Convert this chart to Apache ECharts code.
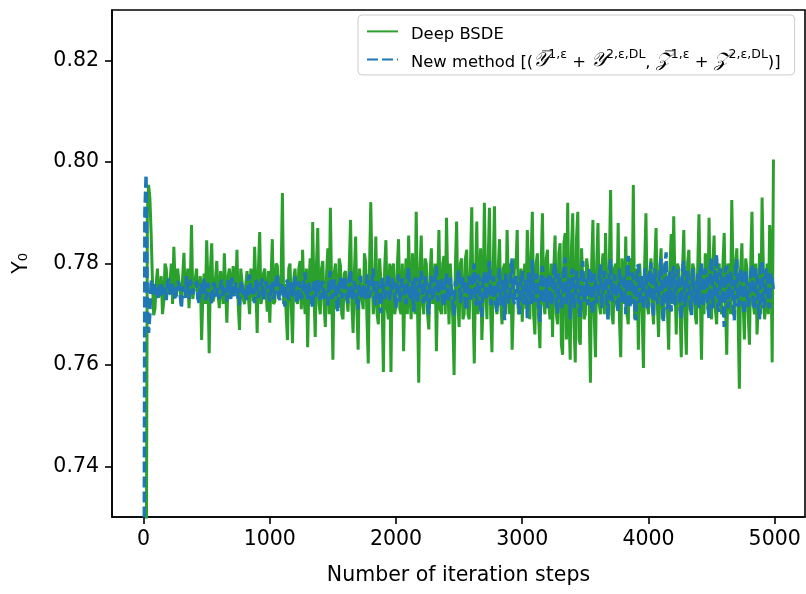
<!DOCTYPE html>
<html>
<head>
<meta charset="utf-8">
<script src="https://cdn.jsdelivr.net/npm/echarts@6/dist/echarts.min.js"></script>
<style>html,body{margin:0;padding:0;background:#fff}#c{width:806px;height:594px}</style>
</head>
<body>
<div id="c"></div>
<script>
// Logged every 10 iteration steps: "even" arrays hold steps 0,20,...,4980 and the final step 4990;
// "odd" arrays hold steps 10,30,...,4970.
const stepInterval = 20;
const oddOffset = 10;
const finalStep = 4990;

// Deep BSDE Y0 estimates
const deepBSDEEven = [
0.600,0.700,0.7955,0.7860,0.7698,0.7760,0.7735,0.7775,0.7725,0.7790,
0.7740,0.7800,0.7833,0.7735,0.7765,0.7730,0.7821,0.7745,0.7712,0.7876,
0.7750,0.7790,0.7738,0.7649,0.7780,0.7846,0.7623,0.7840,0.7735,0.7805,
0.7712,0.7760,0.7820,0.7683,0.7790,0.7730,0.7770,0.7827,0.7669,0.7765,
0.7720,0.7785,0.7700,0.7770,0.7833,0.7663,0.7862,0.7735,0.7790,0.7705,
0.7683,0.7848,0.7725,0.7795,0.7740,0.7939,0.7760,0.7649,0.7800,0.7643,
0.7790,0.7720,0.7805,0.7827,0.7700,0.7635,0.7810,0.7882,0.7655,0.7870,
0.7700,0.7805,0.7675,0.7830,0.7910,0.7610,0.7800,0.7720,0.7795,0.7690,
0.7785,0.7705,0.7886,0.7663,0.7853,0.7630,0.7790,0.7710,0.7800,0.7603,
0.7921,0.7700,0.7853,0.7680,0.7810,0.7586,0.7846,0.7690,0.7586,0.7800,
0.7720,0.7848,0.7700,0.7627,0.7810,0.7855,0.7690,0.7760,0.7902,0.7565,
0.7855,0.7700,0.7800,0.7670,0.7830,0.7720,0.7627,0.7866,0.7700,0.7815,
0.7890,0.7680,0.7800,0.7580,0.7883,0.7675,0.7810,0.7700,0.7827,0.7690,
0.7911,0.7603,0.7883,0.7700,0.7649,0.7920,0.7690,0.7910,0.7625,0.7913,
0.7700,0.7848,0.7680,0.7800,0.7866,0.7700,0.7630,0.7810,0.7866,0.7720,
0.7685,0.7800,0.7866,0.7690,0.7902,0.7660,0.7820,0.7633,0.7899,0.7700,
0.7827,0.7690,0.7655,0.7855,0.7680,0.7840,0.7620,0.7860,0.7920,0.7610,
0.7899,0.7605,0.7902,0.7640,0.7830,0.7700,0.7790,0.7565,0.7886,0.7615,
0.7880,0.7700,0.7820,0.7860,0.7690,0.7945,0.7680,0.7800,0.7880,0.7615,
0.7780,0.7853,0.7680,0.7800,0.7955,0.7700,0.7630,0.7800,0.7594,0.7899,
0.7700,0.7810,0.7680,0.7870,0.7655,0.7830,0.7700,0.7780,0.7630,0.7858,
0.7893,0.7660,0.7790,0.7615,0.7866,0.7620,0.7827,0.7700,0.7790,0.7680,
0.7897,0.7610,0.7700,0.7800,0.7890,0.7690,0.7855,0.7680,0.7800,0.7700,
0.7860,0.7620,0.7790,0.7925,0.7700,0.7830,0.7553,0.7840,0.7650,0.7790,
0.7640,0.7902,0.7700,0.7660,0.7820,0.7930,0.7690,0.7800,0.7876,0.7605,
0.8005
];
const deepBSDEOdd = [
0.620,0.7900,0.7930,0.7770,0.7710,0.7790,0.7740,0.7700,0.7800,0.7750,
0.7765,0.7720,0.7760,0.7790,0.7745,0.7775,0.7735,0.7790,0.7760,0.7730,
0.7770,0.7730,0.7775,0.7740,0.7720,0.7760,0.7790,0.7725,0.7770,0.7740,
0.7785,0.7720,0.7750,0.7775,0.7730,0.7795,0.7740,0.7720,0.7790,0.7730,
0.7760,0.7735,0.7790,0.7725,0.7750,0.7790,0.7720,0.7780,0.7745,0.7785,
0.7770,0.7720,0.7800,0.7730,0.7780,0.7720,0.7700,0.7790,0.7720,0.7770,
0.7740,0.7790,0.7710,0.7740,0.7790,0.7760,0.7720,0.7740,0.7800,0.7720,
0.7790,0.7720,0.7780,0.7700,0.7750,0.7780,0.7710,0.7810,0.7700,0.7780,
0.7730,0.7800,0.7720,0.7780,0.7710,0.7790,0.7730,0.7820,0.7690,0.7790,
0.7780,0.7730,0.7700,0.7810,0.7720,0.7790,0.7710,0.7800,0.7790,0.7700,
0.7790,0.7710,0.7800,0.7760,0.7700,0.7740,0.7820,0.7700,0.7720,0.7790,
0.7720,0.7810,0.7700,0.7780,0.7720,0.7800,0.7760,0.7710,0.7800,0.7700,
0.7760,0.7800,0.7690,0.7790,0.7720,0.7800,0.7690,0.7810,0.7700,0.7800,
0.7720,0.7780,0.7700,0.7830,0.7720,0.7760,0.7800,0.7700,0.7790,0.7720,
0.7790,0.7720,0.7790,0.7700,0.7760,0.7800,0.7720,0.7790,0.7700,0.7790,
0.7760,0.7710,0.7780,0.7810,0.7700,0.7800,0.7690,0.7800,0.7720,0.7810,
0.7720,0.7800,0.7790,0.7700,0.7820,0.7640,0.7840,0.7650,0.7700,0.7830,
0.7680,0.7850,0.7650,0.7830,0.7690,0.7810,0.7720,0.7800,0.7700,0.7800,
0.7720,0.7790,0.7700,0.7730,0.7800,0.7700,0.7790,0.7720,0.7690,0.7810,
0.7720,0.7700,0.7810,0.7720,0.7690,0.7790,0.7800,0.7700,0.7800,0.7720,
0.7780,0.7720,0.7800,0.7720,0.7790,0.7690,0.7800,0.7710,0.7790,0.7720,
0.7760,0.7800,0.7710,0.7790,0.7700,0.7800,0.7710,0.7800,0.7700,0.7790,
0.7750,0.7780,0.7820,0.7710,0.7720,0.7800,0.7710,0.7790,0.7720,0.7800,
0.7720,0.7800,0.7700,0.7780,0.7800,0.7700,0.7790,0.7720,0.7810,0.7700,
0.7800,0.7720,0.7800,0.7720,0.7700,0.7790,0.7720,0.7700,0.7830
];

// New method Y0 estimates
const newMethodEven = [
0.650,0.7975,0.7663,0.7768,0.7738,0.7755,0.7730,0.7762,0.7745,0.7728,
0.7770,0.7735,0.7752,0.7725,0.7760,0.7712,0.7748,0.7775,0.7730,0.7758,
0.7740,0.7765,0.7722,0.7755,0.7770,0.7735,0.7750,0.7720,0.7762,0.7745,
0.7730,0.7768,0.7742,0.7725,0.7758,0.7772,0.7735,0.7750,0.7718,0.7765,
0.7748,0.7728,0.7778,0.7740,0.7722,0.7760,0.7745,0.7770,0.7730,0.7755,
0.7725,0.7765,0.7740,0.7780,0.7728,0.7752,0.7715,0.7768,0.7745,0.7735,
0.7775,0.7722,0.7755,0.7740,0.7782,0.7730,0.7760,0.7712,0.7750,0.7770,
0.7728,0.7765,0.7745,0.7718,0.7785,0.7735,0.7758,0.7705,0.7772,0.7740,
0.7762,0.7722,0.7788,0.7738,0.7750,0.7710,0.7775,0.7745,0.7728,0.7768,
0.7735,0.7790,0.7718,0.7755,0.7702,0.7770,0.7742,0.7780,0.7725,0.7760,
0.7712,0.7778,0.7740,0.7765,0.7720,0.7792,0.7735,0.7705,0.7768,0.7748,
0.7785,0.7722,0.7758,0.7700,0.7775,0.7740,0.7795,0.7728,0.7762,0.7715,
0.7780,0.7735,0.7770,0.7698,0.7755,0.7788,0.7722,0.7765,0.7708,0.7775,
0.7742,0.7800,0.7718,0.7768,0.7695,0.7782,0.7735,0.7805,0.7725,0.7760,
0.7705,0.7790,0.7745,0.7688,0.7778,0.7730,0.7810,0.7720,0.7765,0.7700,
0.7785,0.7738,0.7692,0.7772,0.7808,0.7725,0.7760,0.7685,0.7795,0.7740,
0.7712,0.7780,0.7735,0.7800,0.7702,0.7768,0.7722,0.7812,0.7745,0.7690,
0.7790,0.7730,0.7770,0.7695,0.7805,0.7742,0.7718,0.7785,0.7700,0.7765,
0.7738,0.7798,0.7710,0.7775,0.7690,0.7808,0.7728,0.7762,0.7705,0.7792,
0.7745,0.7700,0.7815,0.7725,0.7770,0.7688,0.7798,0.7740,0.7710,0.7785,
0.7728,0.7802,0.7695,0.7765,0.7735,0.7810,0.7685,0.7822,0.7740,0.7705,
0.7795,0.7720,0.7770,0.7690,0.7805,0.7735,0.7760,0.7698,0.7790,0.7745,
0.7712,0.7800,0.7728,0.7778,0.7692,0.7812,0.7740,0.7818,0.7705,0.7770,
0.7675,0.7795,0.7730,0.7765,0.7688,0.7808,0.7720,0.7785,0.7700,0.7760,
0.7735,0.7798,0.7710,0.7772,0.7690,0.7805,0.7725,0.7790,0.7712,0.7768,
0.7748
];
const newMethodOdd = [
0.7900,0.7720,0.7700,0.7745,0.7760,0.7740,0.7758,0.7735,0.7752,0.7762,
0.7742,0.7760,0.7728,0.7765,0.7738,0.7755,0.7732,0.7748,0.7768,0.7740,
0.7755,0.7732,0.7760,0.7740,0.7728,0.7762,0.7738,0.7758,0.7735,0.7750,
0.7760,0.7735,0.7752,0.7768,0.7730,0.7745,0.7762,0.7728,0.7758,0.7738,
0.7735,0.7770,0.7738,0.7752,0.7770,0.7732,0.7758,0.7728,0.7765,0.7740,
0.7758,0.7730,0.7768,0.7735,0.7762,0.7730,0.7760,0.7728,0.7762,0.7750,
0.7728,0.7765,0.7730,0.7768,0.7735,0.7762,0.7725,0.7765,0.7735,0.7742,
0.7760,0.7730,0.7725,0.7770,0.7730,0.7768,0.7722,0.7760,0.7732,0.7775,
0.7730,0.7770,0.7728,0.7765,0.7722,0.7765,0.7730,0.7760,0.7778,0.7732,
0.7770,0.7728,0.7765,0.7725,0.7772,0.7730,0.7768,0.7728,0.7770,0.7735,
0.7765,0.7725,0.7770,0.7730,0.7775,0.7728,0.7765,0.7772,0.7725,0.7770,
0.7730,0.7775,0.7718,0.7768,0.7728,0.7772,0.7725,0.7770,0.7722,0.7768,
0.7725,0.7772,0.7720,0.7765,0.7780,0.7722,0.7772,0.7715,0.7770,0.7725,
0.7775,0.7722,0.7778,0.7712,0.7770,0.7728,0.7782,0.7718,0.7775,0.7722,
0.7772,0.7718,0.7770,0.7780,0.7722,0.7785,0.7728,0.7775,0.7712,0.7778,
0.7720,0.7770,0.7782,0.7720,0.7730,0.7780,0.7712,0.7778,0.7722,0.7772,
0.7775,0.7718,0.7785,0.7720,0.7780,0.7712,0.7790,0.7720,0.7772,0.7780,
0.7712,0.7785,0.7718,0.7782,0.7725,0.7770,0.7790,0.7715,0.7780,0.7722,
0.7775,0.7712,0.7785,0.7720,0.7785,0.7725,0.7778,0.7718,0.7790,0.7722,
0.7778,0.7790,0.7712,0.7782,0.7718,0.7790,0.7720,0.7775,0.7790,0.7712,
0.7780,0.7718,0.7790,0.7720,0.7782,0.7712,0.7795,0.7710,0.7785,0.7778,
0.7718,0.7788,0.7712,0.7792,0.7715,0.7785,0.7725,0.7790,0.7718,0.7780,
0.7785,0.7715,0.7790,0.7718,0.7795,0.7712,0.7788,0.7712,0.7790,0.7722,
0.7790,0.7712,0.7785,0.7718,0.7795,0.7715,0.7790,0.7722,0.7785,0.7715,
0.7778,0.7715,0.7790,0.7718,0.7792,0.7712,0.7785,0.7718,0.7780
];

const xTicks = [0, 1000, 2000, 3000, 4000, 5000];
const yTicks = [0.74, 0.76, 0.78, 0.80, 0.82];

// Merge the two interleaved logs into [step, value] pairs
function mergeLog(even, odd) {
  const out = [];
  const nEven = even.length - 1; // last entry is the final step
  for (let i = 0; i < nEven; i++) {
    out.push([i * stepInterval, even[i]]);
    if (i < odd.length) out.push([i * stepInterval + oddOffset, odd[i]]);
  }
  out.push([finalStep, even[nEven]]);
  return out;
}
const greenData = mergeLog(deepBSDEEven, deepBSDEOdd);
const blueData = mergeLog(newMethodEven, newMethodOdd);

const FONT = 'DejaVu Sans';
const FS = 20.5;
const chart = echarts.init(document.getElementById('c'), null, {renderer: 'canvas'});
chart.setOption({
  animation: false,
  backgroundColor: '#fff',
  grid: {left: 112, top: 10, right: 1, bottom: 77, show: true, borderColor: '#000', borderWidth: 1.6, backgroundColor: 'transparent'},
  xAxis: {
    type: 'value', min: -250, max: 5240,
    name: 'Number of iteration steps', nameLocation: 'middle', nameGap: 48,
    nameTextStyle: {fontFamily: FONT, fontSize: FS, color: '#000'},
    axisLine: {show: true, onZero: false, lineStyle: {color: '#000', width: 1.6}},
    axisTick: {show: true, length: 7, lineStyle: {color: '#000', width: 1.6}, customValues: xTicks},
    axisLabel: {fontFamily: FONT, fontSize: FS, color: '#000', margin: 12, customValues: xTicks, formatter: v => String(v)},
    splitLine: {show: false}
  },
  yAxis: {
    type: 'value', min: 0.73, max: 0.83,
    name: 'Y\u2080', nameLocation: 'middle', nameGap: 80, nameRotate: 90,
    nameTextStyle: {fontFamily: FONT, fontSize: FS, color: '#000'},
    axisLine: {show: true, onZero: false, lineStyle: {color: '#000', width: 1.6}},
    axisTick: {show: true, length: 7, lineStyle: {color: '#000', width: 1.6}, customValues: yTicks},
    axisLabel: {fontFamily: FONT, fontSize: FS, color: '#000', margin: 13, customValues: yTicks, formatter: v => v.toFixed(2)},
    splitLine: {show: false}
  },
  legend: {
    left: 358, top: 15, orient: 'vertical',
    padding: [10, 14, 4, 8], itemGap: 5,
    itemWidth: 31, itemHeight: 16,
    backgroundColor: 'rgba(255,255,255,0.8)',
    borderColor: '#ccc', borderWidth: 1, borderRadius: 4,
    itemStyle: {opacity: 0},
    data: ['Deep BSDE', 'New method'],
    formatter: function (name) {
      if (name === 'Deep BSDE') return '{t|Deep BSDE}';
      return '{t|New method [(}{m|\uD835\uDCB4\u0305}{s|1,\u03B5}{t| + }{m|\uD835\uDCB4}{s|2,\u03B5,DL}{t|, }{m|\uD835\uDCB5\u0305}{s|1,\u03B5}{t| + }{m|\uD835\uDCB5}{s|2,\u03B5,DL}{t|)]}';
    },
    textStyle: {
      fontFamily: FONT, fontSize: 16.4, color: '#000', padding: [0, 0, 0, 8],
      rich: {
        t: {fontFamily: FONT, fontSize: 16.4, color: '#000', lineHeight: 23, verticalAlign: 'bottom'},
        m: {fontFamily: 'DejaVu Serif', fontStyle: 'italic', fontSize: 19.5, color: '#000', lineHeight: 23, verticalAlign: 'bottom'},
        s: {fontFamily: FONT, fontSize: 12.5, color: '#000', lineHeight: 23, verticalAlign: 'top'}
      }
    }
  },
  series: [
    {name: 'Deep BSDE', type: 'line', data: greenData, showSymbol: false, symbol: 'none',
     lineStyle: {color: '#2ca02c', width: 3}, itemStyle: {color: '#2ca02c'}, z: 2},
    {name: 'New method', type: 'line', data: blueData, showSymbol: false, symbol: 'none',
     lineStyle: {color: '#1f77b4', width: 3.4, type: [11, 4]}, itemStyle: {color: '#1f77b4'}, z: 3}
  ]
});
</script>
</body>
</html>
